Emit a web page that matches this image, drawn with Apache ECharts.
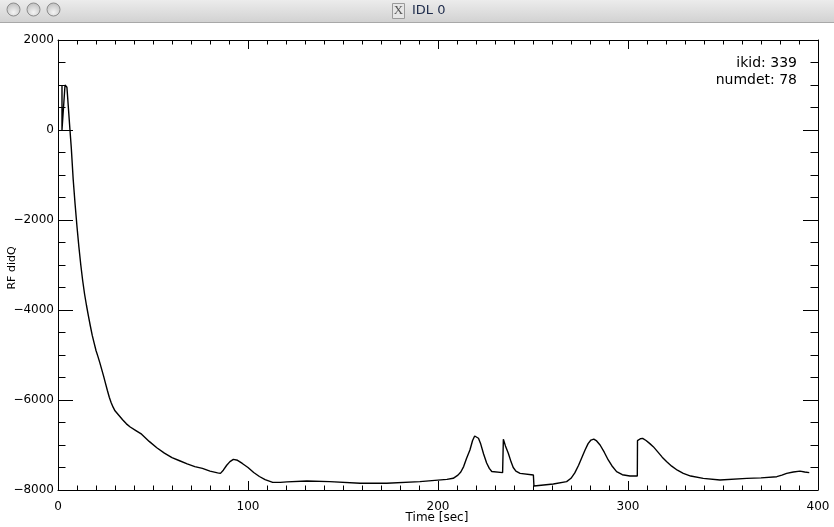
<!DOCTYPE html>
<html>
<head>
<meta charset="utf-8">
<script src="https://cdn.jsdelivr.net/npm/echarts@6/dist/echarts.min.js"></script>
<style>
html,body{margin:0;padding:0;background:#fff;}
#chart{width:834px;height:527px;}
</style>
</head>
<body>
<div id="chart"></div>
<script>
// Time axis (seconds) of the trace
var timeSec = [2.1, 2.1, 3.7, 4.7, 6.3, 7, 8, 9, 10, 11, 12, 13, 14, 15, 16, 17, 18, 19, 20, 21, 22, 23, 24, 25, 26, 27, 28, 29, 30,
  32, 34, 36, 38, 41, 44, 48, 52, 56, 60, 64, 68, 72, 76, 80, 84, 85.5, 87, 88.8, 90.5, 92.3, 94.5, 97, 100, 103, 106, 109, 113, 117,
  120.5, 131, 143, 159, 173, 190.5, 204.7, 208, 210.5, 212, 213.5, 215, 216.8, 218.2, 219.3, 220.3, 221.3, 222.5, 224, 225.6, 227, 228.3,
  234, 234.4, 235.5, 237, 238.5, 239.6, 241, 243.2, 250.2, 250.5, 260.7, 267.7, 270, 272, 274, 276, 277.4, 279, 280.5, 282, 283.5, 285.3,
  287.5, 289.6, 291.5, 294, 297, 301, 304.9, 305, 306.5, 307.7, 309.5, 311.5, 313.3, 316, 318, 320.4, 323, 326, 329.1, 333, 339.6,
  348.4, 362.5, 370, 378.3, 381, 383.5, 387, 390.5, 393, 395.4];
// RF didQ values
var rfDidQ = [1000, 0, 1000, 950, 0, -400, -1100, -1650, -2150, -2600, -3000, -3350, -3650, -3900, -4130, -4350, -4560, -4730, -4900,
  -5030, -5170, -5320, -5470, -5630, -5790, -5940, -6060, -6160, -6240,
  -6340, -6440, -6530, -6600, -6680, -6760, -6920, -7060, -7180, -7280, -7350, -7420, -7480, -7520, -7580, -7620, -7630, -7560, -7450,
  -7370, -7320, -7340, -7410, -7500, -7610, -7700, -7770, -7830, -7830,
  -7820, -7800, -7815, -7850, -7850, -7815, -7765, -7740, -7670, -7600, -7480, -7300, -7111, -6900, -6800, -6790, -6850, -6980, -7200,
  -7400, -7520, -7590,
  -7615, -6874, -7020, -7185, -7380, -7500, -7580, -7630, -7667, -7911, -7867, -7815, -7740, -7620, -7450, -7250, -7111, -6970, -6890,
  -6870, -6910, -7000,
  -7160, -7333, -7460, -7593, -7660, -7689, -7689, -6904, -6860, -6852, -6900, -6970, -7037, -7170, -7270, -7370, -7470, -7560, -7630,
  -7690, -7741,
  -7778, -7741, -7730, -7704, -7670, -7630, -7600, -7580, -7600, -7615];
var xTicks = [0, 100, 200, 300, 400];
var yTicks = [-8000, -6000, -4000, -2000, 0, 2000];
var yTickLabels = ['\u22128000', '\u22126000', '\u22124000', '\u22122000', '0', '2000'];
var annotLines = ['ikid: 339', 'numdet: 78'];
var windowTitle = 'IDL 0';
var xTitle = 'Time [sec]';
var yTitle = 'RF didQ';

var FONT = 'DejaVu Sans';
var series = timeSec.map(function (t, i) { return [t, rfDidQ[i]]; });

function xAxisCfg(pos, showLabel) {
  return {
    type: 'value', position: pos, min: xTicks[0], max: xTicks[xTicks.length - 1], interval: 100,
    axisLine: { show: true, onZero: false, lineStyle: { color: '#000', width: 1 } },
    axisTick: { show: true, inside: true, length: 9, lineStyle: { color: '#000', width: 1 } },
    minorTick: { show: true, splitNumber: 10, length: 4.5, lineStyle: { color: '#000', width: 1 } },
    splitLine: { show: false },
    axisLabel: { show: showLabel, color: '#000', fontFamily: FONT, fontSize: 12, margin: 11 }
  };
}
function yAxisCfg(pos, showLabel) {
  return {
    type: 'value', position: pos, min: yTicks[0], max: yTicks[yTicks.length - 1], interval: 2000,
    axisLine: { show: true, onZero: false, lineStyle: { color: '#000', width: 1 } },
    axisTick: { show: true, inside: true, length: 15, lineStyle: { color: '#000', width: 1 } },
    minorTick: { show: true, splitNumber: 4, length: 7.5, lineStyle: { color: '#000', width: 1 } },
    splitLine: { show: false },
    axisLabel: {
      show: showLabel, color: '#000', fontFamily: FONT, fontSize: 12, margin: 4,
      formatter: function (v) { var k = yTicks.indexOf(v); return k >= 0 ? yTickLabels[k] : ''; }
    }
  };
}

var chart = echarts.init(document.getElementById('chart'), null, { renderer: 'canvas' });
chart.setOption({
  backgroundColor: '#fff',
  animation: false,
  grid: { left: 58, right: 16, top: 40, bottom: 37, containLabel: false, outerBoundsMode: 'none' },
  xAxis: [xAxisCfg('bottom', true), xAxisCfg('top', false)],
  yAxis: [yAxisCfg('left', true), yAxisCfg('right', false)],
  series: [{
    type: 'line', data: series, xAxisIndex: 0, yAxisIndex: 0,
    showSymbol: false, symbol: 'none', smooth: false,
    lineStyle: { color: '#000', width: 1.4 }
  }],
  graphic: [
    {
      type: 'rect', left: 0, top: 0, silent: true, z: 10,
      shape: { width: 834, height: 22 },
      style: {
        fill: new echarts.graphic.LinearGradient(0, 0, 0, 1, [
          { offset: 0, color: '#ececec' }, { offset: 1, color: '#d2d2d2' }
        ])
      }
    },
    { type: 'line', silent: true, z: 11, shape: { x1: 0, y1: 22.5, x2: 834, y2: 22.5 }, style: { stroke: '#a8a8a8', lineWidth: 1 } },
    { type: 'circle', silent: true, z: 11, shape: { cx: 13.5, cy: 9.5, r: 6.5 },
      style: { fill: new echarts.graphic.RadialGradient(0.5, 0.7, 0.7, [{ offset: 0, color: '#f4f4f4' }, { offset: 1, color: '#bdbdbd' }]), stroke: '#8c8c8c', lineWidth: 1 } },
    { type: 'circle', silent: true, z: 11, shape: { cx: 33.5, cy: 9.5, r: 6.5 },
      style: { fill: new echarts.graphic.RadialGradient(0.5, 0.7, 0.7, [{ offset: 0, color: '#f4f4f4' }, { offset: 1, color: '#bdbdbd' }]), stroke: '#8c8c8c', lineWidth: 1 } },
    { type: 'circle', silent: true, z: 11, shape: { cx: 53.5, cy: 9.5, r: 6.5 },
      style: { fill: new echarts.graphic.RadialGradient(0.5, 0.7, 0.7, [{ offset: 0, color: '#f4f4f4' }, { offset: 1, color: '#bdbdbd' }]), stroke: '#8c8c8c', lineWidth: 1 } },
    { type: 'rect', silent: true, z: 11, shape: { x: 392.5, y: 3.5, width: 12, height: 15 },
      style: { fill: '#e6e6e6', stroke: '#9a9a9a', lineWidth: 1 } },
    { type: 'text', silent: true, z: 12, x: 398.5, y: 11,
      style: { text: 'X', fill: '#555', font: '13px "Liberation Serif"', align: 'center', verticalAlign: 'middle' } },
    { type: 'text', silent: true, z: 12, x: 412, y: 11,
      style: { text: windowTitle, fill: '#1c2a4a', font: '13px "DejaVu Sans"', align: 'left', verticalAlign: 'middle' } },
    { type: 'text', silent: true, z: 12, x: 797, y: 63,
      style: { text: annotLines[0], fill: '#000', font: '14px "DejaVu Sans"', align: 'right', verticalAlign: 'middle' } },
    { type: 'text', silent: true, z: 12, x: 797, y: 80,
      style: { text: annotLines[1], fill: '#000', font: '14px "DejaVu Sans"', align: 'right', verticalAlign: 'middle' } },
    { type: 'text', silent: true, z: 12, x: 12, y: 268, rotation: Math.PI / 2,
      style: { text: yTitle, fill: '#000', font: '11px "DejaVu Sans"', align: 'center', verticalAlign: 'middle' } },
    { type: 'text', silent: true, z: 12, x: 437, y: 518,
      style: { text: xTitle, fill: '#000', font: '12px "DejaVu Sans"', align: 'center', verticalAlign: 'middle' } }
  ]
});
</script>
</body>
</html>
